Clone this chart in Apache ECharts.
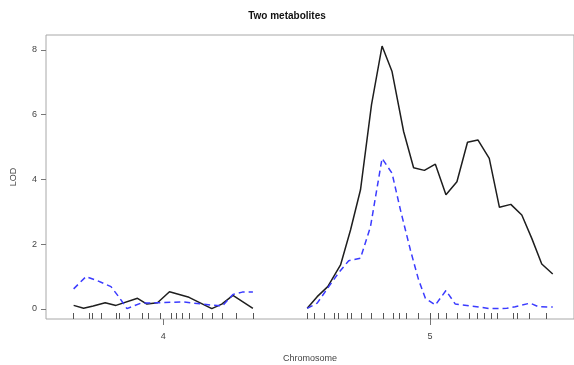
<!DOCTYPE html>
<html>
<head>
<meta charset="utf-8">
<script src="https://cdn.jsdelivr.net/npm/echarts@6/dist/echarts.min.js"></script>
<style>
  html, body { margin: 0; padding: 0; background: #fff; }
  #chart { width: 574px; height: 365px; }
</style>
</head>
<body>
<div id="chart"></div>
<script>
// chromosomes, lengths in cM and gap between them
var chrNames = ['4', '5'];
var chrLen = [89.8, 123];
var chrGap = 27.2;

// marker positions (cM within chromosome), drawn as rug
var markers4 = [0, 7.8, 9.5, 14, 21.2, 22.8, 27.8, 34.2, 37.3, 43.3, 48.7, 51.2, 54.5, 57.8, 64.5, 69.2, 74.2, 81.5, 89.8];
var markers5 = [0, 3.7, 8.3, 13.3, 15.8, 20, 22, 27, 32.2, 38, 43, 46.2, 49.7, 55.8, 61.7, 65.8, 69.5, 75.3, 81.3, 85.3, 88.7, 92, 95, 103.3, 105, 111.3, 119.5];

// metabolite 1 (solid)
var pos1chr4 = [0, 5, 9.8, 15.8, 21.2, 32, 36.7, 42, 48, 57.8, 69.2, 74.2, 79.8, 89.8];
var lod1chr4 = [0.11, 0.02, 0.09, 0.19, 0.11, 0.33, 0.15, 0.19, 0.53, 0.36, 0.01, 0.15, 0.42, 0.02];
var pos1chr5 = [0, 5, 10.3, 14.2, 16.7, 21.7, 26.7, 32.2, 37.5, 42.5, 48.3, 53.3, 58.7, 64.2, 69.5, 75, 80.3, 85.5, 91.2, 96.3, 102, 107.5, 112.5, 117.5, 123];
var lod1chr5 = [0.02, 0.38, 0.69, 1.10, 1.36, 2.44, 3.68, 6.30, 8.12, 7.33, 5.48, 4.36, 4.28, 4.47, 3.53, 3.93, 5.15, 5.22, 4.65, 3.14, 3.23, 2.90, 2.18, 1.39, 1.08];

// metabolite 2 (dashed)
var pos2chr4 = [0, 6.2, 12, 18.7, 22.8, 26.7, 33.7, 42, 54.5, 68.7, 74.5, 79.8, 84.5, 89.8];
var lod2chr4 = [0.62, 1.0, 0.87, 0.69, 0.36, 0.01, 0.18, 0.19, 0.22, 0.12, 0.09, 0.45, 0.52, 0.52];
var pos2chr5 = [0, 5, 10.8, 15.8, 20.8, 26.7, 31.7, 37.5, 42.5, 46.7, 51.7, 55.8, 59.2, 64.2, 69.5, 74.2, 80, 91.7, 100, 104.2, 111.7, 115.8, 123];
var lod2chr5 = [0.02, 0.18, 0.69, 1.12, 1.49, 1.57, 2.54, 4.65, 4.19, 3.06, 1.82, 0.90, 0.33, 0.12, 0.57, 0.15, 0.11, 0.01, 0.02, 0.07, 0.18, 0.07, 0.06];

var yTicks = [0, 2, 4, 6, 8];

var chrStart = [0, chrLen[0] + chrGap];
var chrMid = chrStart.map(function (s, i) { return s + chrLen[i] / 2; });

function joinChr(p4, l4, p5, l5) {
  var out = [];
  for (var i = 0; i < p4.length; i++) out.push([chrStart[0] + p4[i], l4[i]]);
  out.push([chrStart[0] + chrLen[0] + chrGap / 2, null]);
  for (var j = 0; j < p5.length; j++) out.push([chrStart[1] + p5[j], l5[j]]);
  return out;
}

var rug = markers4.map(function (m) { return chrStart[0] + m; })
  .concat(markers5.map(function (m) { return chrStart[1] + m; }));

var xMin = -13.85, xMax = 250.65;
var labelStyle = { color: '#444', fontSize: 9, fontFamily: 'Liberation Sans' };

var myChart = echarts.init(document.getElementById('chart'));
myChart.setOption({
  animation: false,
  title: {
    text: 'Two metabolites',
    left: 'center',
    top: 6,
    textStyle: { fontSize: 10, fontWeight: 'bold', color: '#111', fontFamily: 'Liberation Sans' }
  },
  grid: {
    left: 46, right: 0, top: 35, bottom: 46,
    outerBoundsMode: 'none',
    containLabel: false,
    show: true, borderColor: '#a8a8a8', borderWidth: 1
  },
  xAxis: [{
    type: 'value', min: xMin, max: xMax,
    name: 'Chromosome', nameLocation: 'middle', nameGap: 35,
    nameTextStyle: labelStyle,
    axisLine: { show: false, onZero: false },
    splitLine: { show: false },
    axisTick: { show: true, length: 6, customValues: chrMid, lineStyle: { color: '#777' } },
    axisLabel: {
      margin: 13, customValues: chrMid, color: '#444', fontSize: 9, fontFamily: 'Liberation Sans',
      formatter: function (v) {
        var k = chrMid.indexOf(v);
        return k >= 0 ? chrNames[k] : '';
      }
    }
  }, {
    type: 'value', min: xMin, max: xMax, position: 'bottom',
    axisLine: { show: false, onZero: false },
    splitLine: { show: false },
    axisLabel: { show: false },
    axisTick: { show: true, inside: true, length: 6, customValues: rug, lineStyle: { color: '#555' } }
  }],
  yAxis: {
    type: 'value', min: -0.31, max: 8.46,
    name: 'LOD', nameLocation: 'middle', nameGap: 28, nameRotate: 90,
    nameTextStyle: labelStyle,
    axisLine: { show: false, onZero: false },
    splitLine: { show: false },
    axisTick: { show: true, length: 5, customValues: yTicks, lineStyle: { color: '#777' } },
    axisLabel: { margin: 9, customValues: yTicks, color: '#444', fontSize: 9, fontFamily: 'Liberation Sans' }
  },
  series: [{
    name: 'metabolite 1',
    type: 'line',
    symbol: 'none',
    data: joinChr(pos1chr4, lod1chr4, pos1chr5, lod1chr5),
    lineStyle: { color: '#1e1e1e', width: 1.5 }
  }, {
    name: 'metabolite 2',
    type: 'line',
    symbol: 'none',
    data: joinChr(pos2chr4, lod2chr4, pos2chr5, lod2chr5),
    lineStyle: { color: '#3b3bff', width: 1.5, type: [6, 4] }
  }]
});
</script>
</body>
</html>
